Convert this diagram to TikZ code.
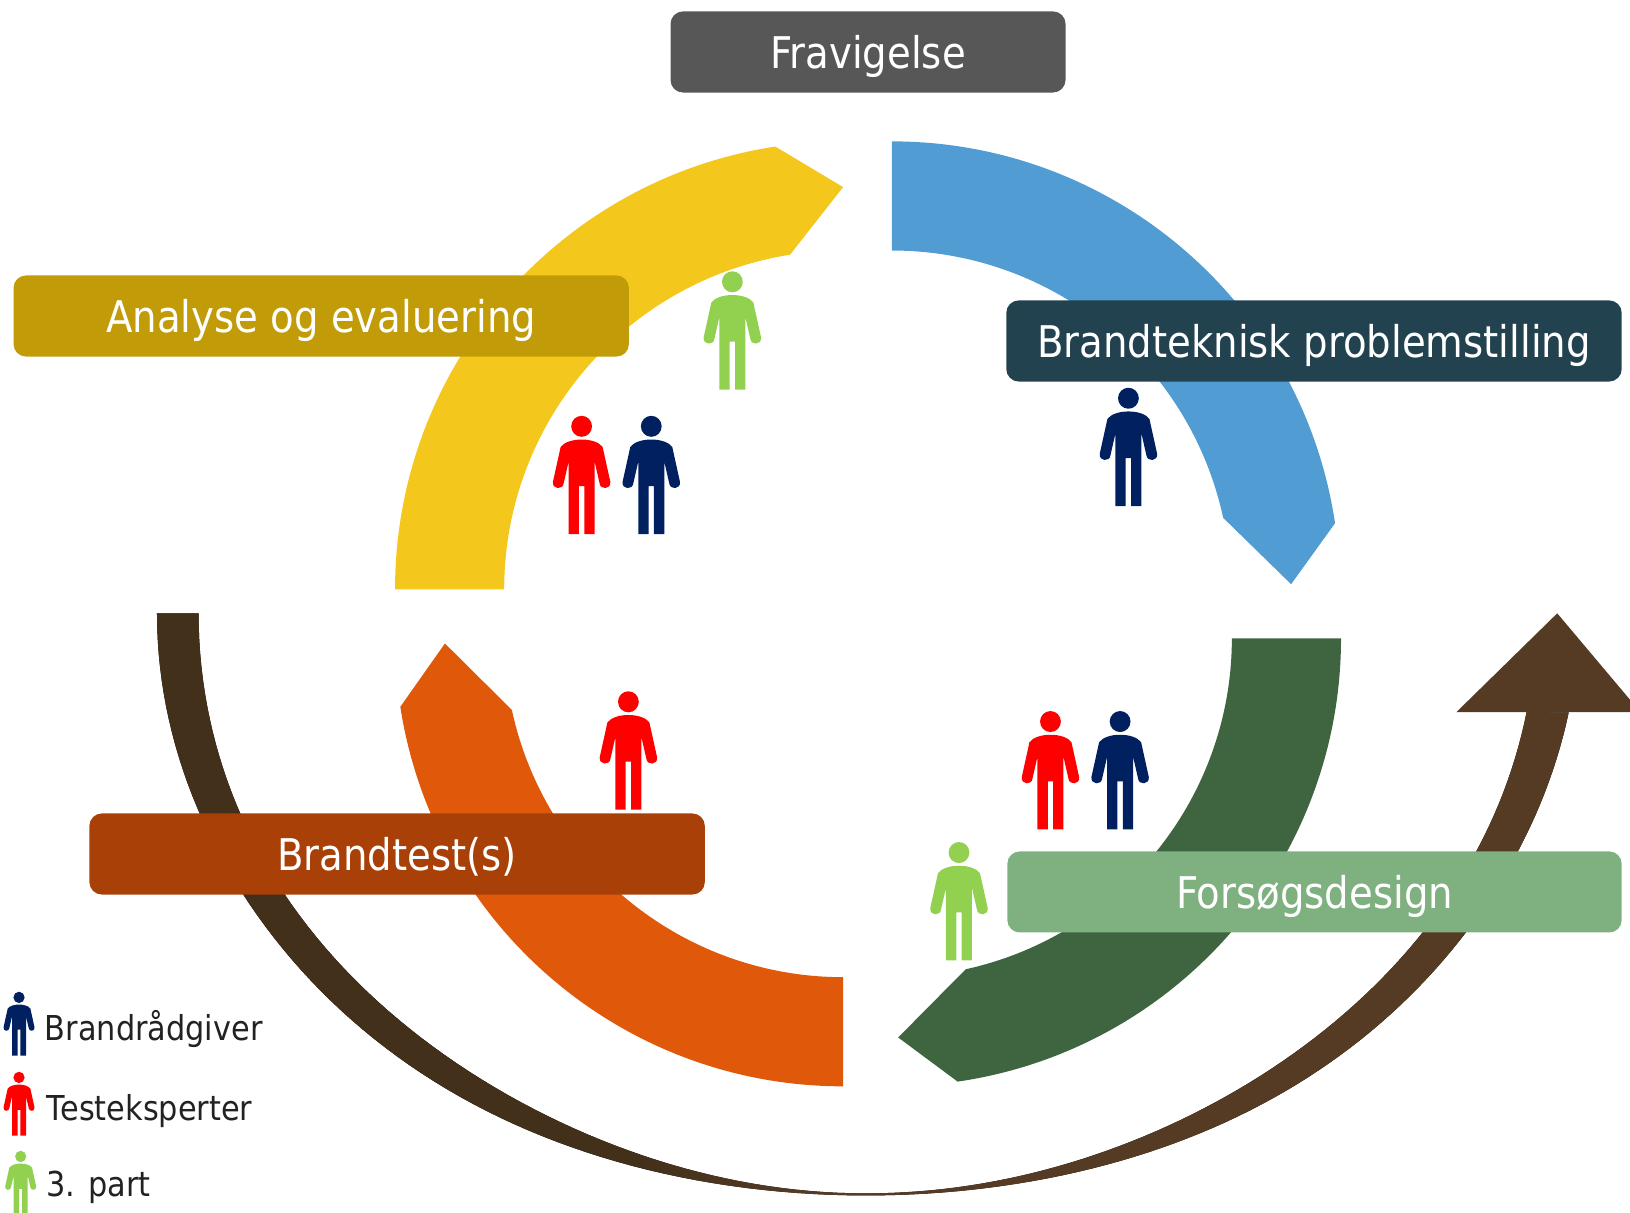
\documentclass[tikz,border=0pt]{standalone}
\usepackage{fontspec}
\usetikzlibrary{calc}
\setmainfont{DejaVu Sans}[FakeStretch=0.885]
\definecolor{cblue}{HTML}{519CD2}
\definecolor{cyellow}{HTML}{F4C71C}
\definecolor{cgreen}{HTML}{3F6540}
\definecolor{corange}{HTML}{E0590A}
\definecolor{lgrey}{HTML}{575757}
\definecolor{lgold}{HTML}{C29B08}
\definecolor{lnavy}{HTML}{224250}
\definecolor{lrust}{HTML}{A84007}
\definecolor{lgreen}{HTML}{7FB080}
\definecolor{pnavy}{HTML}{002060}
\definecolor{pred}{HTML}{FF0000}
\definecolor{pgreen}{HTML}{92D050}
\definecolor{bdark}{HTML}{43301A}
\definecolor{blight}{HTML}{553B24}
\definecolor{ink}{HTML}{222222}
\pgfdeclarehorizontalshading{brownfade}{100bp}{color(0bp)=(bdark); color(42bp)=(bdark); color(48bp)=(blight); color(100bp)=(blight)}
\tikzset{
  label box/.style={rectangle,rounded corners=12pt,minimum width=592pt,minimum height=78pt,inner sep=0pt,text=white,
    font=\fontsize{42}{50}\selectfont,text height=41.6pt,text depth=10pt,align=center},
  legend text/.style={anchor=base west,inner sep=0pt,text=ink,font=\fontsize{33}{40}\selectfont},
  pics/person/.style={code={
    \fill[#1] (0,10.1) ellipse [x radius=10,y radius=10.1];
    \fill[#1] (-20.2,30) -- (-27.6,63.5) .. controls (-28.5,71) and (-18,71.5) .. (-17.3,65) -- (-12.5,44)
      -- (-12.5,113.9) -- (-2.6,113.9) -- (-2.6,67.7) -- (2.6,67.7) -- (2.6,113.9) -- (12.5,113.9) -- (12.5,44)
      -- (17.3,65) .. controls (18,71.5) and (28.5,71) .. (27.6,63.5) -- (20.2,30)
      .. controls (17,25.5) and (9,22.8) .. (0,22.8) .. controls (-9,22.8) and (-17,25.5) .. (-20.2,30) -- cycle;
  }}
}
\begin{document}
\begin{tikzpicture}[x=1pt,y=-1pt]
\useasboundingbox (0,0) rectangle (1568,1166);
\clip (0,0) rectangle (1568,1166);
\coordinate (bc) at (858,567);
\coordinate (yc) at (811,567);
\coordinate (gc) at (859,614);
\coordinate (oc) at (811,614);
% brown arrow
\fill[shading=brownfade]
  plot[domain=180:90,samples=70] ({833+cos(\x)*(682+40*sin(\x)^4)},{590+560*sin(\x)})
  -- plot[domain=90:9.8,samples=70] ({833+cos(\x)*(686+45*sin(\x)^4)},{590+560*sin(\x)})
  -- plot[domain=9.8:90,samples=70] ({833+cos(\x)*(645-40*sin(\x)^4)},{590+558*sin(\x)})
  -- plot[domain=90:180,samples=70] ({833+cos(\x)*(642-50*sin(\x)^4)},{590+558*sin(\x)}) -- cycle;
\fill[blight] (1498,590) -- (1578,685) -- (1401,685) -- cycle;
% ring segments
\fill[cblue] ($(bc)+(-90:431)$) arc [start angle=-90,end angle=-8.5,radius=431]
  -- (1242,562) -- ($(bc)+(-12.2:326)$) arc [start angle=-12.2,end angle=-90,radius=326] -- cycle;
\fill[cyellow] ($(yc)+(180:431)$) arc [start angle=180,end angle=261.3,radius=431]
  -- (811,180) -- ($(yc)+(261:326)$) arc [start angle=261,end angle=180,radius=326] -- cycle;
\fill[cgreen] ($(gc)+(0:431)$) arc [start angle=0,end angle=81.7,radius=431]
  -- (864,998) -- ($(gc)+(77.6:326)$) arc [start angle=77.6,end angle=0,radius=326] -- cycle;
\fill[corange] ($(oc)+(90:431)$) arc [start angle=90,end angle=171.2,radius=431]
  -- (428,619) -- ($(oc)+(167.8:326)$) arc [start angle=167.8,end angle=90,radius=326] -- cycle;
% labels
\node[label box,fill=lgrey,minimum width=380pt] (fravigelse) at (835,50) {Fravigelse};
\node[label box,fill=lgold] (analyse) at (309,304) {Analyse og evaluering};
\node[label box,fill=lnavy] (problem) at (1264,328) {Brandteknisk problemstilling};
\node[label box,fill=lrust] (brandtest) at (382,821.5) {Brandtest(s)};
\node[label box,fill=lgreen,minimum width=591pt] (design) at (1264.5,858) {Forsøgsdesign};
% people
\pic at (704.5,261) {person=pgreen};
\pic at (559.5,400) {person=pred};
\pic at (626.5,400) {person=pnavy};
\pic at (1085.5,373) {person=pnavy};
\pic at (604.5,665) {person=pred};
\pic at (1010.5,684) {person=pred};
\pic at (1077.5,684) {person=pnavy};
\pic at (922.5,810) {person=pgreen};
% legend
\pic[scale=0.54] at (18.3,954) {person=pnavy};
\pic[scale=0.54] at (18.3,1031) {person=pred};
\pic[scale=0.54] at (19.9,1107) {person=pgreen};
\node[legend text] (lg1) at (43,1000.6) {Brandrådgiver};
\node[legend text] (lg2) at (45,1078) {Testeksperter};
\node[legend text] (lg3) at (44.5,1151) {3. part};
\end{tikzpicture}
\end{document}
